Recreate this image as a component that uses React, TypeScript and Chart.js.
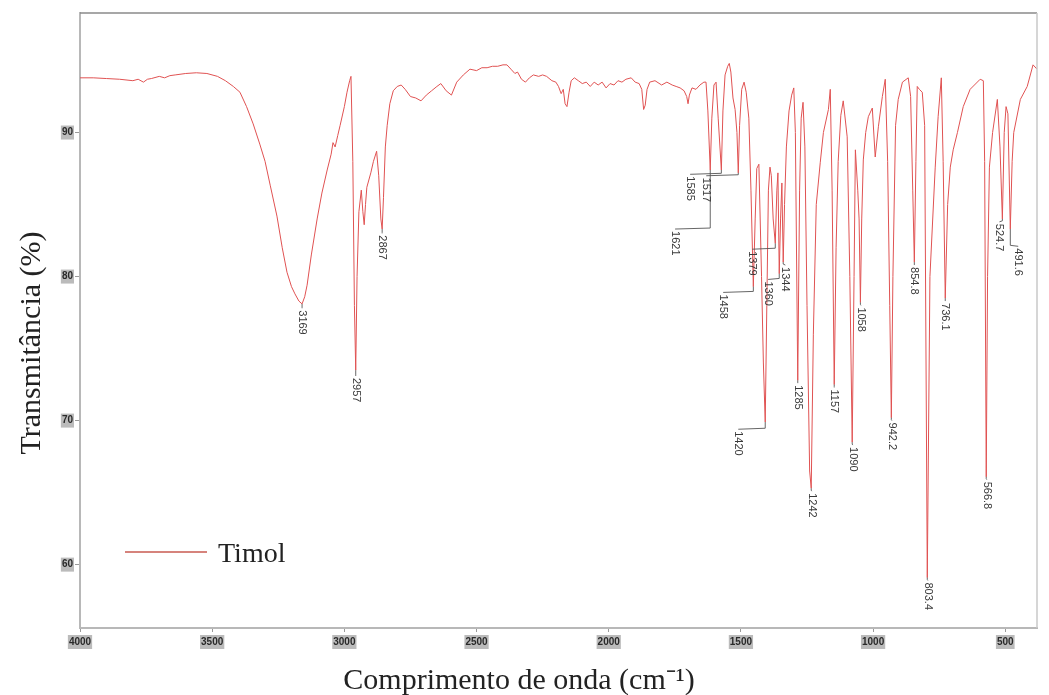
import React, { useEffect, useRef } from "react";
import { Chart, registerables } from "chart.js";

Chart.register(...registerables);

// ---------- data ----------
const seriesName = "Timol";
const xTitle = "Comprimento de onda (cm\u207B\u00B9)";
const yTitle = "Transmitância (%)";

const xTicks = [4000, 3500, 3000, 2500, 2000, 1500, 1000, 500];
const yTicks = [60, 70, 80, 90];

const wavenumbers = [
  4000, 3950, 3900, 3850, 3800, 3780, 3760, 3745, 3730, 3700, 3680, 3660, 3640, 3600, 3560, 3520, 3480, 3450,
  3420, 3395, 3370, 3345, 3320, 3300, 3280, 3255, 3235, 3217, 3200, 3187, 3172, 3160, 3150, 3141, 3125, 3103,
  3085, 3065, 3050, 3043, 3035, 3025, 3016, 3000, 2990, 2980, 2975, 2968, 2962, 2957, 2952, 2945, 2936, 2930,
  2925, 2920, 2915, 2900, 2890, 2878, 2870, 2862, 2857, 2852, 2845, 2838, 2828, 2815, 2800, 2785, 2770, 2750,
  2730, 2710, 2690, 2670, 2650, 2635, 2615, 2595, 2575, 2550, 2525, 2500, 2480, 2460, 2440, 2420, 2400, 2385,
  2370, 2355, 2345, 2330, 2315, 2300, 2285, 2265, 2250, 2235, 2215, 2200, 2190, 2180, 2172, 2165, 2158, 2150,
  2142, 2130, 2115, 2100, 2085, 2070, 2055, 2040, 2025, 2010, 1995, 1980, 1965, 1950, 1935, 1915, 1900, 1885,
  1875, 1868, 1862, 1855, 1845, 1825, 1800, 1780, 1760, 1745, 1730, 1715, 1705, 1700, 1695, 1685, 1670, 1655,
  1640, 1632, 1625, 1616, 1610, 1602, 1594, 1586, 1574, 1568, 1560, 1550, 1544, 1538, 1530, 1522, 1515, 1510,
  1505, 1497, 1488, 1480, 1470, 1462, 1453, 1446, 1440, 1432, 1422, 1415, 1408, 1402, 1396, 1390, 1385, 1378,
  1370, 1364, 1360, 1355, 1350, 1345, 1340, 1335, 1328, 1318, 1308, 1300, 1294, 1285, 1278, 1272, 1265, 1258,
  1250, 1240, 1234, 1226, 1215, 1200, 1188, 1169, 1162, 1155, 1147, 1140, 1132, 1122, 1113, 1098, 1088, 1079,
  1072, 1067, 1058, 1053, 1048, 1043, 1037, 1028, 1018, 1003, 992, 980, 965, 954, 945, 937, 931, 925,
  915, 905, 889, 867, 858, 850, 844, 838, 833, 825, 814, 805, 795, 785, 765, 754, 742, 735, 727, 718,
  708, 697, 681, 659, 633, 595, 583, 578, 572, 567, 560, 548, 530, 520, 511, 504, 497, 490, 481, 474,
  468, 443, 417, 395, 380,
];

const transmittance = [
  93.8, 93.8, 93.75, 93.7, 93.6, 93.7, 93.5, 93.7, 93.75, 93.9, 93.8, 93.95, 94.0, 94.1, 94.15, 94.1, 93.9, 93.6,
  93.2, 92.8, 91.8, 90.6, 89.2, 88.0, 86.3, 84.2, 82.0, 80.3, 79.3, 78.8, 78.3, 78.1, 78.6, 79.4, 81.5, 84.0,
  85.8, 87.4, 88.5, 89.3, 89.0, 89.8, 90.5, 91.8, 92.8, 93.6, 93.9, 88.0, 78.0, 73.5, 80.0, 84.5, 86.0, 84.5,
  83.6, 85.0, 86.2, 87.2, 88.0, 88.7, 87.0, 84.0, 83.3, 85.5, 89.0, 90.5, 92.0, 92.9, 93.2, 93.3, 93.0, 92.5,
  92.4, 92.2, 92.6, 92.9, 93.2, 93.4, 92.9, 92.6, 93.5, 94.0, 94.4, 94.3, 94.5, 94.5, 94.6, 94.6, 94.7, 94.7,
  94.4, 94.1, 94.2, 93.7, 93.5, 93.8, 94.0, 93.9, 94.0, 93.9, 93.6, 93.5, 93.2, 92.7, 93.0, 92.0, 91.8, 92.8,
  93.6, 93.8, 93.6, 93.4, 93.5, 93.2, 93.5, 93.3, 93.5, 93.1, 93.4, 93.3, 93.6, 93.5, 93.7, 93.8, 93.5, 93.4,
  93.0, 91.6, 91.9, 93.0, 93.5, 93.6, 93.3, 93.5, 93.3, 93.2, 93.1, 92.9, 92.5, 92.0, 92.6, 93.1, 93.0, 93.3,
  93.5, 93.5, 91.5, 87.4, 91.0, 93.3, 93.5, 91.0, 87.4, 91.5, 94.0, 94.6, 94.8, 94.2, 92.4, 91.6, 90.0, 87.2,
  90.5, 93.0, 93.5, 92.8, 91.0, 86.0, 79.3, 84.0, 87.5, 87.8, 80.0, 74.0, 69.9, 78.0, 86.0, 87.6, 87.0, 84.0,
  82.3, 86.0, 87.2, 80.2, 84.0, 86.5, 81.0, 85.0, 89.0, 91.5, 92.6, 93.1, 90.0, 72.8, 86.0, 91.0, 92.1, 89.0,
  78.0, 66.5, 65.3, 76.0, 85.0, 87.9, 90.0, 91.6, 93.0, 86.0, 72.5, 82.0, 88.0, 91.2, 92.2, 89.7, 80.0, 68.5,
  80.0, 88.8, 86.0, 84.0, 78.2, 84.0, 88.1, 90.0, 91.1, 91.7, 88.3, 90.4, 92.5, 93.7, 88.0, 78.0, 70.2, 80.0,
  90.5, 92.3, 93.5, 93.8, 92.5, 86.0, 81.0, 88.0, 93.2, 93.0, 92.8, 90.5, 59.1, 80.0, 87.6, 91.1, 93.8, 88.0, 78.5, 85.0,
  87.6, 88.8, 90.0, 91.8, 93.0, 93.7, 93.6, 88.0, 66.1, 80.0, 87.6, 90.0, 92.3, 89.0, 84.0, 90.0, 91.8, 91.3, 83.3, 88.0,
  90.0, 92.3, 93.2, 94.7, 94.4,
];

// peak annotations
const peakLabels = [
  "3169", "2957", "2867", "1621", "1585", "1517", "1458", "1420", "1379", "1360", "1344", "1285",
  "1242", "1157", "1090", "1058", "942.2", "854.8", "803.4", "736.1", "566.8", "524.7", "491.6",
];
const peakWn = [3160, 2957, 2857, 1616, 1574, 1510, 1453, 1408, 1370, 1355, 1340, 1285, 1234, 1147, 1079, 1048, 931, 844, 795, 727, 572, 511, 481];
const peakT = [78.1, 73.5, 83.3, 87.4, 87.4, 87.2, 79.3, 69.9, 82.3, 80.2, 81.0, 72.8, 65.3, 72.5, 68.5, 78.2, 70.2, 81.0, 59.1, 78.5, 66.1, 84.0, 83.3];
const labelWn = [3160, 2957, 2857, 1749, 1692, 1631, 1567, 1510, 1457, 1397, 1332, 1285, 1232, 1147, 1077, 1046, 929, 844, 793, 727, 570, 522, 451];
const labelT = [77.8, 73.1, 83.0, 83.3, 87.1, 87.0, 78.9, 69.4, 81.9, 79.8, 80.8, 72.6, 65.1, 72.3, 68.3, 78.0, 70.0, 80.8, 58.9, 78.3, 65.9, 83.8, 82.1];

const lineColor = "rgb(224,82,82)";

export default function App() {
  const ref = useRef<HTMLCanvasElement>(null);

  useEffect(() => {
    const canvas = ref.current;
    if (!canvas) return;

    const decor = {
      id: "decor",
      afterDatasetsDraw(chart: any) {
        const { ctx, chartArea } = chart;
        const xs = chart.scales.x;
        const ys = chart.scales.y;
        ctx.save();
        // frame top & right
        ctx.lineWidth = 1.5;
        ctx.strokeStyle = "#8a8a8a";
        ctx.beginPath();
        ctx.moveTo(chartArea.left, chartArea.top);
        ctx.lineTo(chartArea.right, chartArea.top);
        ctx.stroke();
        ctx.strokeStyle = "#c8c8c8";
        ctx.beginPath();
        ctx.moveTo(chartArea.right, chartArea.top);
        ctx.lineTo(chartArea.right, chartArea.bottom);
        ctx.stroke();

        // peak leaders and labels
        ctx.strokeStyle = "#555";
        ctx.lineWidth = 0.9;
        ctx.fillStyle = "#3a3a3a";
        ctx.font = '11px "Liberation Sans Narrow", "Arial Narrow", "Liberation Sans", sans-serif';
        ctx.textAlign = "left";
        ctx.textBaseline = "middle";
        for (let i = 0; i < peakLabels.length; i++) {
          const px = xs.getPixelForValue(peakWn[i]);
          const py = ys.getPixelForValue(peakT[i]);
          const lx = xs.getPixelForValue(labelWn[i]);
          const ly = ys.getPixelForValue(labelT[i]);
          ctx.beginPath();
          ctx.moveTo(lx, ly);
          ctx.lineTo(px, ly - 1);
          ctx.lineTo(px, py);
          ctx.stroke();
          ctx.save();
          ctx.translate(lx, ly + 2);
          ctx.rotate(Math.PI / 2);
          ctx.fillText(peakLabels[i], 0, 0);
          ctx.restore();
        }

        // legend
        ctx.strokeStyle = "rgb(200,90,80)";
        ctx.lineWidth = 1.5;
        ctx.beginPath();
        ctx.moveTo(125, 552);
        ctx.lineTo(207, 552);
        ctx.stroke();
        ctx.fillStyle = "#222";
        ctx.font = '28px "Liberation Serif", "Times New Roman", serif';
        ctx.textAlign = "left";
        ctx.textBaseline = "alphabetic";
        ctx.fillText(seriesName, 218, 562);

        // axis titles
        ctx.font = '30px "Liberation Serif", "Times New Roman", serif';
        ctx.textAlign = "center";
        ctx.fillText(xTitle, 519, 689);
        ctx.save();
        ctx.translate(40, 343);
        ctx.rotate(-Math.PI / 2);
        ctx.fillText(yTitle, 0, 0);
        ctx.restore();
        ctx.restore();
      },
    };

    const tickFont = { family: '"Liberation Sans Narrow", "Liberation Sans", sans-serif', size: 10, weight: "bold" as const };

    const chart = new Chart(canvas, {
      type: "line",
      data: {
        datasets: [
          {
            label: seriesName,
            data: wavenumbers.map((w, i) => ({ x: w, y: transmittance[i] })),
            borderColor: lineColor,
            borderWidth: 1,
            pointRadius: 0,
            tension: 0,
            fill: false,
          },
        ],
      },
      options: {
        animation: false,
        responsive: false,
        events: [],
        layout: { padding: { left: 0, top: 13, right: 12, bottom: 0 } },
        plugins: { legend: { display: false }, tooltip: { enabled: false }, title: { display: false } },
        scales: {
          x: {
            type: "linear",
            reverse: true,
            min: 380,
            max: 4000,
            afterBuildTicks: (s: any) => {
              s.ticks = xTicks.map((v) => ({ value: v }));
            },
            afterFit: (s: any) => {
              s.height = 67;
            },
            grid: { display: true, drawOnChartArea: false, drawTicks: true, tickLength: 4, color: "#9a9a9a" },
            border: { display: true, color: "#b8b8b8", width: 2 },
            ticks: {
              font: tickFont,
              color: "#2a2a2a",
              padding: 4,
              maxRotation: 0,
              autoSkip: false,
              showLabelBackdrop: true,
              backdropColor: "rgba(175,175,175,0.85)",
              backdropPadding: 1,
              callback: (v: any) => String(v),
            },
          },
          y: {
            type: "linear",
            min: 55.6,
            max: 98.3,
            afterBuildTicks: (s: any) => {
              s.ticks = yTicks.map((v) => ({ value: v }));
            },
            afterFit: (s: any) => {
              s.width = 80;
            },
            grid: { display: true, drawOnChartArea: false, drawTicks: true, tickLength: 5, color: "#9a9a9a" },
            border: { display: true, color: "#b8b8b8", width: 2 },
            ticks: {
              font: tickFont,
              color: "#2a2a2a",
              padding: 2,
              showLabelBackdrop: true,
              backdropColor: "rgba(175,175,175,0.85)",
              backdropPadding: 1,
              callback: (v: any) => String(v),
            },
          },
        },
      } as any,
      plugins: [decor],
    });

    return () => chart.destroy();
  }, []);

  return (
    <div style={{ position: "absolute", left: 0, top: 0, width: 1049, height: 695, background: "#fff" }}>
      <canvas ref={ref} width={1049} height={695} style={{ display: "block" }} />
    </div>
  );
}
